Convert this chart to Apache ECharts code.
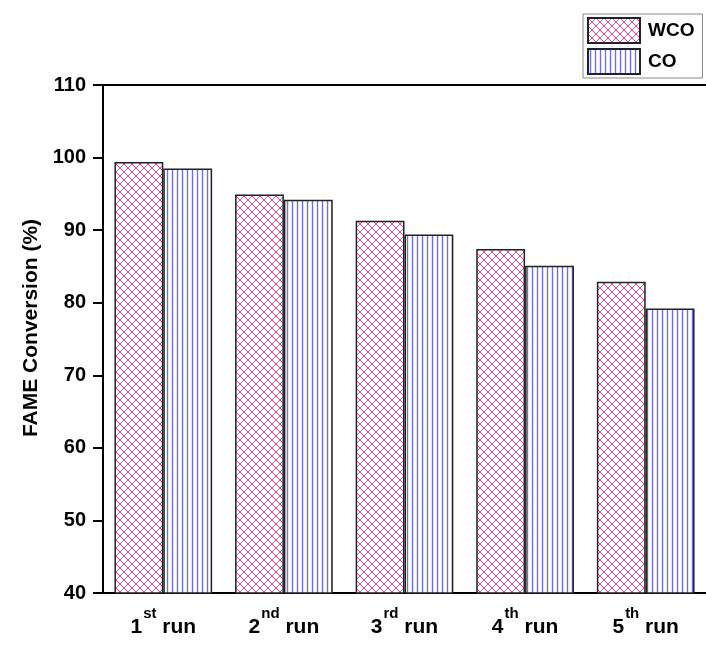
<!DOCTYPE html>
<html>
<head>
<meta charset="utf-8">
<script src="https://cdn.jsdelivr.net/npm/echarts@6/dist/echarts.min.js"></script>
<style>
html,body{margin:0;padding:0;background:#fff;}
#chart{width:706px;height:647px;}
</style>
</head>
<body>
<div id="chart"></div>
<script>
var runNumbers = ['1', '2', '3', '4', '5'];
var runSuffixes = ['st', 'nd', 'rd', 'th', 'th'];
var seriesNames = ['WCO', 'CO'];
var wcoValues = [99.4, 94.9, 91.3, 87.4, 82.9];
var coValues = [98.5, 94.2, 89.4, 85.1, 79.2];
var yTicks = [40, 50, 60, 70, 80, 90, 100, 110];

var categories = runNumbers.map(function (n, i) { return n + '|' + runSuffixes[i]; });

function crossPattern() {
  var c = document.createElement('canvas');
  c.width = 8; c.height = 8;
  var g = c.getContext('2d');
  g.fillStyle = '#ffffff';
  g.fillRect(0, 0, 8, 8);
  g.strokeStyle = '#f0478f';
  g.lineWidth = 1;
  g.beginPath();
  g.moveTo(-1, -1); g.lineTo(9, 9);
  g.moveTo(9, -1); g.lineTo(-1, 9);
  g.stroke();
  return c;
}
function vertPattern() {
  var c = document.createElement('canvas');
  c.width = 5; c.height = 5;
  var g = c.getContext('2d');
  g.fillStyle = '#ffffff';
  g.fillRect(0, 0, 5, 5);
  g.strokeStyle = '#6e6ee8';
  g.lineWidth = 1.4;
  g.beginPath();
  g.moveTo(2.5, 0); g.lineTo(2.5, 5);
  g.stroke();
  return c;
}

var chart = echarts.init(document.getElementById('chart'), null, {renderer: 'canvas'});
var font = '"Liberation Sans", Arial, sans-serif';
var labelRich = {
  n: {fontFamily: font, fontSize: 21, fontWeight: 'bold', color: '#000', lineHeight: 32, verticalAlign: 'bottom'},
  s: {fontFamily: font, fontSize: 15, fontWeight: 'bold', color: '#000', lineHeight: 32, verticalAlign: 'top', padding: [0, 0, 13, 1]},
  r: {fontFamily: font, fontSize: 21, fontWeight: 'bold', color: '#000', lineHeight: 32, verticalAlign: 'bottom'}
};
chart.setOption({
  animation: false,
  backgroundColor: '#ffffff',
  textStyle: {fontFamily: font},
  grid: {left: 103, top: 85, width: 606, bottom: 54, show: false},
  legend: {
    left: 583, top: 14,
    orient: 'vertical',
    icon: 'rect',
    itemWidth: 52, itemHeight: 25, itemGap: 4,
    padding: [3, 8, 3, 4],
    borderColor: '#888', borderWidth: 1,
    textStyle: {fontFamily: font, fontSize: 19, fontWeight: 'bold', color: '#000', padding: [0, 0, 0, 3]},
    data: seriesNames
  },
  xAxis: [{
    type: 'category',
    data: categories,
    axisLine: {lineStyle: {color: '#000', width: 2}},
    axisTick: {alignWithLabel: true, length: 10, lineStyle: {color: '#000', width: 2}},
    axisLabel: {
      margin: 13,
      formatter: function (v) {
        var p = v.split('|');
        return '{n|' + p[0] + '}{s|' + p[1] + '}{r| run}';
      },
      rich: labelRich
    }
  }, {
    type: 'category',
    position: 'top',
    data: categories,
    axisLine: {show: true, lineStyle: {color: '#000', width: 2}},
    axisTick: {show: false},
    axisLabel: {show: false}
  }],
  yAxis: {
    type: 'value',
    min: yTicks[0], max: yTicks[yTicks.length - 1], interval: 10,
    name: 'FAME Conversion (%)',
    nameLocation: 'middle',
    nameGap: 59,
    nameTextStyle: {fontFamily: font, fontSize: 21, fontWeight: 'bold', color: '#000', padding: [0, 0, 0, 22]},
    axisLine: {show: true, lineStyle: {color: '#000', width: 2}},
    axisTick: {show: true, length: 10, lineStyle: {color: '#000', width: 2}},
    axisLabel: {margin: 17, fontFamily: font, fontSize: 20, fontWeight: 'bold', color: '#000'},
    splitLine: {show: false}
  },
  series: [
    {
      name: seriesNames[0], type: 'bar', data: wcoValues,
      barGap: '0%', barCategoryGap: '19%',
      itemStyle: {color: {image: crossPattern(), repeat: 'repeat'}, borderColor: '#222', borderWidth: 1.5}
    },
    {
      name: seriesNames[1], type: 'bar', data: coValues,
      barGap: '0%', barCategoryGap: '19%',
      itemStyle: {color: {image: vertPattern(), repeat: 'repeat'}, borderColor: '#222', borderWidth: 1.5}
    }
  ]
});
</script>
</body>
</html>
